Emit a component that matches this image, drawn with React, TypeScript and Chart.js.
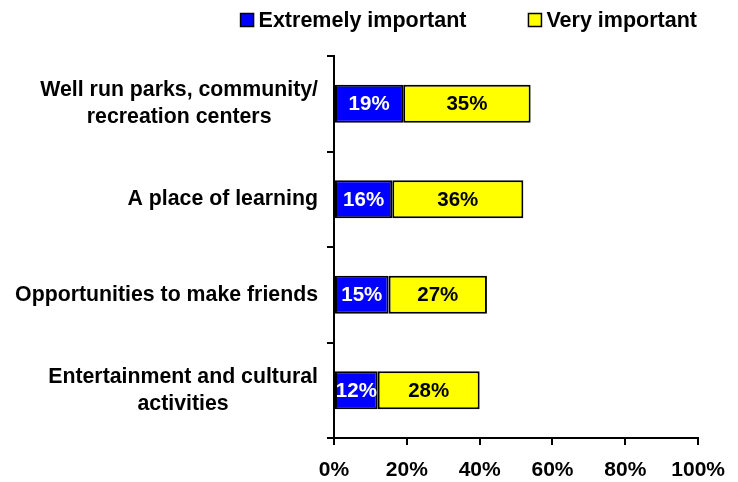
import { useEffect, useRef } from "react";
import { Chart, registerables } from "chart.js";

Chart.register(...registerables);

const FONT = "'Liberation Sans', Arial, Helvetica, sans-serif";

const categories: string[][] = [
  ["Well run parks, community/", "recreation centers"],
  ["A place of learning"],
  ["Opportunities to make friends"],
  ["Entertainment and cultural", "activities"],
];
const seriesNames = ["Extremely important", "Very important"];
const extremelyImportant = [19, 16, 15, 12];
const veryImportant = [35, 36, 27, 28];
const seriesColors = ["#0000FF", "#FFFF00"];
const valueLabelColors = ["#FFFFFF", "#000000"];
const xTickValues = [0, 20, 40, 60, 80, 100];

export default function App() {
  const ref = useRef<HTMLCanvasElement>(null);

  useEffect(() => {
    document.body.style.margin = "0";
    if (!ref.current) return;

    const categoryLabels = {
      id: "categoryLabels",
      afterDraw(chart: any) {
        const ctx = chart.ctx;
        const y = chart.scales.y;
        ctx.save();
        ctx.font = `bold 21.3px ${FONT}`;
        ctx.fillStyle = "#000";
        ctx.textAlign = "center";
        ctx.textBaseline = "middle";
        const right = chart.chartArea.left - 16;
        const lh = 27;
        categories.forEach((lines, i) => {
          const cy = y.getPixelForValue(i);
          const maxW = Math.max(...lines.map((l) => ctx.measureText(l).width));
          const cx = right - maxW / 2;
          lines.forEach((l, j) =>
            ctx.fillText(l, cx, cy + (j - (lines.length - 1) / 2) * lh)
          );
        });
        ctx.restore();
      },
    };

    const valueLabels = {
      id: "valueLabels",
      afterDatasetsDraw(chart: any) {
        const ctx = chart.ctx;
        ctx.save();
        ctx.font = `bold 20.5px ${FONT}`;
        ctx.textAlign = "center";
        ctx.textBaseline = "middle";
        chart.data.datasets.forEach((ds: any, di: number) => {
          const meta = chart.getDatasetMeta(di);
          ctx.fillStyle = valueLabelColors[di];
          meta.data.forEach((bar: any, i: number) => {
            const { x, y, base } = bar.getProps(["x", "y", "base"], true);
            ctx.fillText(ds.data[i] + "%", (x + base) / 2, y + 1);
          });
        });
        ctx.restore();
      },
    };

    const customLegend = {
      id: "customLegend",
      afterDraw(chart: any) {
        const ctx = chart.ctx;
        ctx.save();
        ctx.font = `bold 21.5px ${FONT}`;
        ctx.textBaseline = "middle";
        ctx.textAlign = "left";
        const box = 13;
        const boxGap = 5;
        const itemGap = 62;
        const cy = 20;
        let xRight = chart.width - 41;
        for (let i = seriesNames.length - 1; i >= 0; i--) {
          const tw = ctx.measureText(seriesNames[i]).width;
          const start = xRight - tw - boxGap - box;
          ctx.fillStyle = seriesColors[i];
          ctx.fillRect(start, cy - box / 2, box, box);
          ctx.strokeStyle = "#000";
          ctx.lineWidth = 1.5;
          ctx.strokeRect(start, cy - box / 2, box, box);
          ctx.fillStyle = "#000";
          ctx.fillText(seriesNames[i], start + box + boxGap, cy + 1);
          xRight = start - itemGap;
        }
        ctx.restore();
      },
    };

    const chart = new Chart(ref.current, {
      type: "bar",
      data: {
        labels: categories.map((c) => c.join(" ")),
        datasets: [
          {
            label: seriesNames[0],
            data: extremelyImportant,
            backgroundColor: seriesColors[0],
            borderColor: "#000",
            borderWidth: 2,
            borderSkipped: false,
            barPercentage: 0.4,
            categoryPercentage: 1,
          },
          {
            label: seriesNames[1],
            data: veryImportant,
            backgroundColor: seriesColors[1],
            borderColor: "#000",
            borderWidth: 2,
            borderSkipped: false,
            barPercentage: 0.4,
            categoryPercentage: 1,
          },
        ],
      },
      options: {
        indexAxis: "y",
        animation: false,
        responsive: true,
        maintainAspectRatio: false,
        layout: { padding: { top: 56, right: 39, left: 0, bottom: 0 } },
        plugins: {
          legend: { display: false },
          tooltip: { enabled: false },
        },
        scales: {
          x: {
            type: "linear",
            stacked: true,
            min: 0,
            max: 100,
            afterBuildTicks(scale: any) {
              scale.ticks = xTickValues.map((v) => ({ value: v }));
            },
            ticks: {
              callback: (v: any) => v + "%",
              color: "#000",
              font: { size: 21, weight: "bold", family: FONT },
              padding: 13,
              maxRotation: 0,
            },
            grid: {
              drawOnChartArea: false,
              drawTicks: true,
              tickLength: 7,
              color: "#000",
              lineWidth: 2,
            },
            border: { color: "#000", width: 2 },
            afterFit(scale: any) {
              scale.height = 44;
            },
          },
          y: {
            type: "category",
            stacked: true,
            ticks: { display: false },
            grid: {
              offset: true,
              drawOnChartArea: false,
              drawTicks: true,
              tickLength: 7,
              color: "#000",
              lineWidth: 2,
            },
            border: { color: "#000", width: 2 },
            afterFit(scale: any) {
              scale.width = 334;
            },
          },
        },
      },
      plugins: [categoryLabels, valueLabels, customLegend],
    });

    return () => chart.destroy();
  }, []);

  return (
    <div style={{ width: 738, height: 482, position: "relative" }}>
      <canvas ref={ref} />
    </div>
  );
}
